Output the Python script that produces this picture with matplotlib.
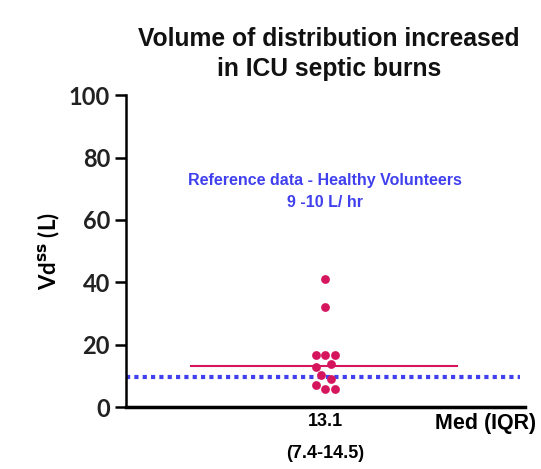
import matplotlib
matplotlib.use("Agg")
import matplotlib.pyplot as plt

# Data
vd_values = [41.2, 32.1, 16.7, 16.7, 16.7, 12.9, 13.7, 10.3, 9.0, 7.1, 5.8, 5.8]
jitter = [0.0, 0.0, -0.023, 0.0, 0.023, -0.023, 0.013, -0.012, 0.013, -0.023, 0.0, 0.023]
median_val = 13.1
reference_val = 9.5
yticks = [0, 20, 40, 60, 80, 100]
title = "Volume of distribution increased\nin ICU septic burns"
ref_text = "Reference data - Healthy Volunteers\n9 -10 L/ hr"
med_label = "13.1\n(7.4-14.5)"

pink = "#d6155f"
blue = "#4040ee"

fig = plt.figure(figsize=(5.41, 4.69), dpi=100)
ax = fig.add_axes([0.233, 0.132, 0.737, 0.665])
cx = 0.5
ax.scatter([cx + j for j in jitter], vd_values, s=40, color=pink, zorder=3, linewidths=0)
ax.plot([0.163, 0.83], [median_val, median_val], color=pink, lw=1.5, zorder=2)
ax.plot([0.0, 0.987], [reference_val, reference_val], color=blue, lw=3,
        linestyle=(0, (1, 1)), zorder=2)
ax.set_xlim(0, 1)
ax.set_ylim(0, 100)
ax.set_yticks(yticks)
ax.set_xticks([])
for s in ["top", "right"]:
    ax.spines[s].set_visible(False)
ax.spines["left"].set_linewidth(1.8)
ax.spines["bottom"].set_linewidth(2.5)
ax.tick_params(axis="y", length=8, width=1.8)
for lab in ax.get_yticklabels():
    lab.set_fontfamily("Lato")
    lab.set_fontweight("bold")
    lab.set_fontsize(17)
    lab.set_color("#222222")
ax.set_ylabel(r"Vd$^{\mathbf{ss}}$ (L)", fontfamily="Lato", fontweight="bold",
              fontsize=16, labelpad=5)
fig.text(0.608, 0.885, title, ha="center", va="center", fontsize=17.7,
         fontweight="bold", fontfamily="Liberation Sans", linespacing=1.3,
         color="#111111")
ax.text(0.5, 0.69, ref_text, transform=ax.transAxes, ha="center", va="center",
        color=blue, fontsize=11.5, fontweight="bold", fontfamily="Liberation Sans",
        linespacing=1.6)
ax.text(cx, -0.02, med_label, transform=ax.transAxes, ha="center", va="top",
        fontsize=13, fontweight="bold", fontfamily="Liberation Sans", linespacing=2.1)
ax.text(0.775, -0.02, "Med (IQR)", transform=ax.transAxes, ha="left", va="top",
        fontsize=15.5, fontweight="bold", fontfamily="Liberation Sans")
fig.savefig("out.png", dpi=100)
